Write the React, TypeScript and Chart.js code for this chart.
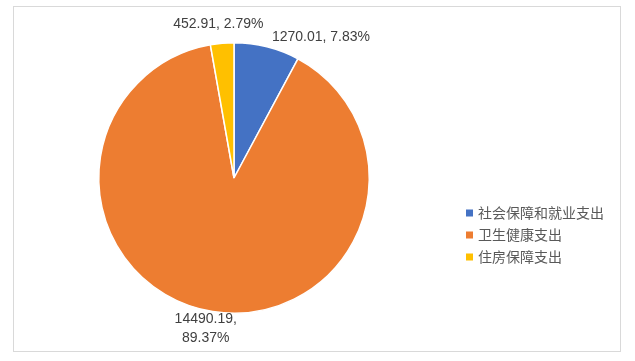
import React, { useEffect, useRef } from "react";
import { Chart, registerables } from "chart.js";

Chart.register(...registerables);

const categories = ["社会保障和就业支出", "卫生健康支出", "住房保障支出"];
const values = [1270.01, 14490.19, 452.91];
const percents = [7.83, 89.37, 2.79];
const colors = ["#4472C4", "#ED7D31", "#FFC000"];

const LABEL_FONT = '14px "Liberation Sans", Arial, sans-serif';
const LEGEND_FONT = '14px "Noto Sans CJK SC", sans-serif';

const framePlugin = {
  id: "frame",
  beforeDraw(chart: any) {
    const ctx = chart.ctx;
    ctx.save();
    ctx.fillStyle = "#ffffff";
    ctx.fillRect(0, 0, chart.width, chart.height);
    ctx.strokeStyle = "#d9d9d9";
    ctx.lineWidth = 1;
    ctx.strokeRect(13.5, 6.5, 607, 345);
    ctx.restore();
  },
};

const labelPlugin = {
  id: "sliceLabels",
  afterDatasetsDraw(chart: any) {
    const ctx = chart.ctx;
    const meta = chart.getDatasetMeta(0);
    ctx.save();
    ctx.font = LABEL_FONT;
    ctx.fillStyle = "#404040";
    const lineH = 19;
    meta.data.forEach((arc: any, i: number) => {
      const p = arc.getProps(["x", "y", "startAngle", "endAngle", "outerRadius"], true);
      const mid = (p.startAngle + p.endAngle) / 2;
      const cos = Math.cos(mid);
      const sin = Math.sin(mid);
      const r = p.outerRadius + 4;
      const ax = p.x + cos * r;
      const ay = p.y + sin * r;
      const text = `${values[i].toFixed(2)}, ${percents[i].toFixed(2)}%`;
      const lines = sin > 0.5 ? [`${values[i].toFixed(2)},`, `${percents[i].toFixed(2)}%`] : [text];
      let align: CanvasTextAlign = "center";
      let dx = cos * 40;
      let dy = 0;
      if (cos > 0.2) { align = "left"; dx = 4; dy = 4; }
      else if (cos < -0.2) { align = "right"; dx = -4; dy = 4; }
      ctx.textAlign = align;
      ctx.textBaseline = "middle";
      const blockH = lines.length * lineH;
      const top = sin < 0 ? ay - blockH - (Math.abs(cos) < 0.2 ? 6 : 0) + dy : ay - 6;
      lines.forEach((ln, k) => {
        ctx.fillText(ln, ax + dx, top + lineH * k + lineH / 2);
      });
    });
    ctx.restore();
  },
};

const legendPlugin = {
  id: "sideLegend",
  afterDraw(chart: any) {
    const ctx = chart.ctx;
    ctx.save();
    ctx.font = LEGEND_FONT;
    ctx.textBaseline = "middle";
    ctx.textAlign = "left";
    const x0 = 466;
    const y0 = 213;
    const step = 22;
    categories.forEach((c, i) => {
      const y = y0 + i * step;
      ctx.fillStyle = colors[i];
      ctx.fillRect(x0, y - 3.5, 7, 7);
      ctx.fillStyle = "#595959";
      ctx.fillText(c, x0 + 12, y);
    });
    ctx.restore();
  },
};

export default function App() {
  const ref = useRef<HTMLCanvasElement>(null);
  useEffect(() => {
    if (!ref.current) return;
    const chart = new Chart(ref.current, {
      type: "pie",
      data: {
        labels: categories,
        datasets: [
          {
            data: values,
            backgroundColor: colors,
            borderColor: "#ffffff",
            borderWidth: 1.5,
          },
        ],
      },
      options: {
        responsive: false,
        animation: false,
        layout: { padding: { left: 98, right: 265, top: 41, bottom: 46 } },
        plugins: {
          legend: { display: false },
          tooltip: { enabled: false },
        },
      },
      plugins: [framePlugin, labelPlugin, legendPlugin],
    });
    return () => chart.destroy();
  }, []);
  return (
    <div style={{ position: "absolute", left: 0, top: 0, width: 635, height: 361 }}>
      <canvas ref={ref} width={635} height={361} style={{ display: "block" }} />
    </div>
  );
}
